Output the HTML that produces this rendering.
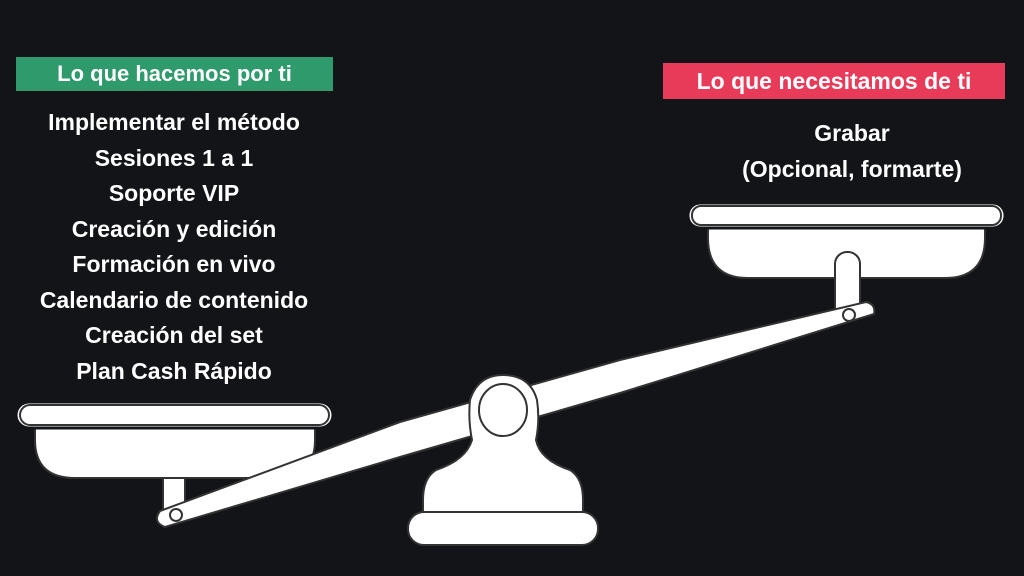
<!DOCTYPE html>
<html><head><meta charset="utf-8"><style>
html,body{margin:0;padding:0;background:#131418;}
body{width:1024px;height:576px;overflow:hidden;position:relative;font-family:"Liberation Sans",sans-serif;color:#fff;font-weight:bold;}
.lab{position:absolute;font-size:22px;text-align:center;}
.list{position:absolute;left:0;width:348px;text-align:center;font-size:23px;line-height:35.5px;top:105px;}
.r{position:absolute;left:680px;width:344px;text-align:center;font-size:23px;line-height:35.5px;top:116px;}
svg{position:absolute;left:0;top:0;}
</style></head><body>
<div class="lab" style="left:16px;top:57px;width:317px;height:34px;line-height:34px;background:#2f9a6c;">Lo que hacemos por ti</div>
<div class="lab" style="left:663px;top:63px;width:342px;height:36px;line-height:36px;background:#e83a59;font-size:23px;">Lo que necesitamos de ti</div>
<div class="list">Implementar el método<br>Sesiones 1 a 1<br>Soporte VIP<br>Creación y edición<br>Formación en vivo<br>Calendario de contenido<br>Creación del set<br>Plan Cash Rápido</div>
<div class="r">Grabar<br>(Opcional, formarte)</div>
<svg width="1024" height="576" viewBox="0 0 1024 576">
<g fill="#fff" stroke="#333" stroke-width="2">
<rect x="163" y="470" width="22" height="44"/>
<path d="M35 428 H315 V440 Q315 478 275 478 H75 Q35 478 35 440 Z"/>
<rect x="16" y="402" width="317" height="26" rx="13" stroke="#131418" stroke-width="3"/>
<rect x="20" y="405" width="309" height="20" rx="10"/>
<path d="M708 228 H985 V238 Q985 278 945 278 H748 Q708 278 708 238 Z"/>
<rect x="688" y="203" width="317" height="25" rx="12" stroke="#131418" stroke-width="3"/>
<rect x="692" y="206" width="309" height="19" rx="9"/>
<rect x="835" y="252" width="25" height="68" rx="12"/>
<path d="M160 511 L400 422 L620 360 L866 302 Q876 304 874 314 L620 393 L400 457 L165 527 Q152 522 160 511 Z"/>
<circle cx="176" cy="515" r="6"/>
<circle cx="849" cy="315" r="6"/>
<path d="M472 440 Q468 420 470 400 Q478 375 503 375 Q530 375 537 400 Q540 420 536 440 Q540 460 570 470 Q583 478 583 500 V512 H423 V500 Q423 478 436 470 Q466 460 472 440 Z"/>
<ellipse cx="503" cy="410" rx="24" ry="26"/>
<rect x="408" y="512" width="190" height="33" rx="16"/>
</g>
</svg>
</body></html>
